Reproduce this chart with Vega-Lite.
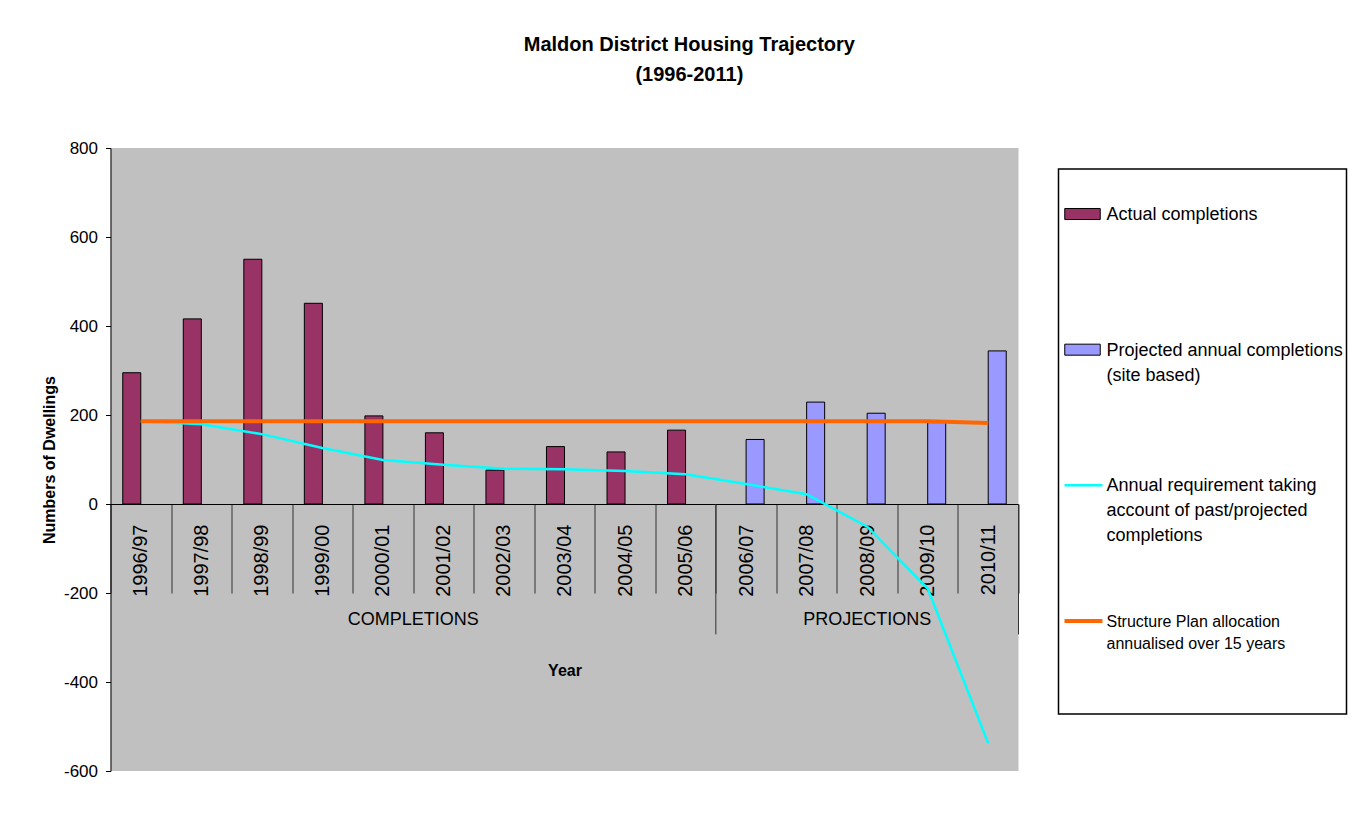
{
  "$schema": "https://vega.github.io/schema/vega-lite/v6.json",
  "background": "white",
  "padding": {"left": 40.5, "top": 35, "right": 5, "bottom": 5},
  "config": {
    "font": "Liberation Sans",
    "text": {"font": "Liberation Sans", "color": "black"},
    "axis": {"labelFont": "Liberation Sans", "titleFont": "Liberation Sans", "labelColor": "black", "titleColor": "black", "domainColor": "black", "tickColor": "black"}
  },
  "title": {
    "text": ["Maldon District Housing Trajectory", "(1996-2011)"],
    "fontSize": 20,
    "fontWeight": "bold",
    "lineHeight": 30,
    "anchor": "middle",
    "offset": 54,
    "dx": -5,
    "color": "black",
    "font": "Liberation Sans"
  },
  "datasets": {
    "bars": [
      {"year": "1996/97", "series": "Actual completions", "value": 295},
      {"year": "1997/98", "series": "Actual completions", "value": 416},
      {"year": "1998/99", "series": "Actual completions", "value": 550},
      {"year": "1999/00", "series": "Actual completions", "value": 451},
      {"year": "2000/01", "series": "Actual completions", "value": 198},
      {"year": "2001/02", "series": "Actual completions", "value": 160},
      {"year": "2002/03", "series": "Actual completions", "value": 76},
      {"year": "2003/04", "series": "Actual completions", "value": 129},
      {"year": "2004/05", "series": "Actual completions", "value": 117},
      {"year": "2005/06", "series": "Actual completions", "value": 166},
      {"year": "2006/07", "series": "Projected annual completions (site based)", "value": 145},
      {"year": "2007/08", "series": "Projected annual completions (site based)", "value": 229},
      {"year": "2008/09", "series": "Projected annual completions (site based)", "value": 204},
      {"year": "2009/10", "series": "Projected annual completions (site based)", "value": 183},
      {"year": "2010/11", "series": "Projected annual completions (site based)", "value": 344}
    ],
    "lines": [
      {"year": "1996/97", "series": "Annual requirement", "value": 186},
      {"year": "1997/98", "series": "Annual requirement", "value": 179},
      {"year": "1998/99", "series": "Annual requirement", "value": 157},
      {"year": "1999/00", "series": "Annual requirement", "value": 126},
      {"year": "2000/01", "series": "Annual requirement", "value": 99},
      {"year": "2001/02", "series": "Annual requirement", "value": 88},
      {"year": "2002/03", "series": "Annual requirement", "value": 79},
      {"year": "2003/04", "series": "Annual requirement", "value": 78},
      {"year": "2004/05", "series": "Annual requirement", "value": 74},
      {"year": "2005/06", "series": "Annual requirement", "value": 67},
      {"year": "2006/07", "series": "Annual requirement", "value": 45},
      {"year": "2007/08", "series": "Annual requirement", "value": 22},
      {"year": "2008/09", "series": "Annual requirement", "value": -51},
      {"year": "2009/10", "series": "Annual requirement", "value": -190},
      {"year": "2010/11", "series": "Annual requirement", "value": -538},
      {"year": "1996/97", "series": "Structure Plan allocation", "value": 186},
      {"year": "1997/98", "series": "Structure Plan allocation", "value": 186},
      {"year": "1998/99", "series": "Structure Plan allocation", "value": 186},
      {"year": "1999/00", "series": "Structure Plan allocation", "value": 186},
      {"year": "2000/01", "series": "Structure Plan allocation", "value": 186},
      {"year": "2001/02", "series": "Structure Plan allocation", "value": 186},
      {"year": "2002/03", "series": "Structure Plan allocation", "value": 186},
      {"year": "2003/04", "series": "Structure Plan allocation", "value": 186},
      {"year": "2004/05", "series": "Structure Plan allocation", "value": 186},
      {"year": "2005/06", "series": "Structure Plan allocation", "value": 186},
      {"year": "2006/07", "series": "Structure Plan allocation", "value": 186},
      {"year": "2007/08", "series": "Structure Plan allocation", "value": 186},
      {"year": "2008/09", "series": "Structure Plan allocation", "value": 186},
      {"year": "2009/10", "series": "Structure Plan allocation", "value": 186},
      {"year": "2010/11", "series": "Structure Plan allocation", "value": 182}
    ],
    "groups": [
      {"group": "COMPLETIONS", "year": "2000/01"},
      {"group": "PROJECTIONS", "year": "2008/09"}
    ],
    "separators": [
      {"year": "2005/06"},
      {"year": "2010/11"}
    ],
    "legend": [
      {"series": "Actual completions", "kind": "bar", "label": ["Actual completions"]},
      {"series": "Projected annual completions (site based)", "kind": "bar", "label": ["Projected annual completions", "(site based)"]},
      {"series": "Annual requirement", "kind": "line", "label": ["Annual requirement taking", "account of past/projected", "completions"]},
      {"series": "Structure Plan allocation", "kind": "line", "label": ["Structure Plan allocation", "annualised over 15 years"]}
    ]
  },
  "spacing": 38,
  "hconcat": [
    {
      "width": 908,
      "height": 623,
      "view": {"fill": "#C0C0C0", "stroke": null},
      "encoding": {
        "x": {
          "field": "year",
          "type": "nominal",
          "sort": null,
          "scale": {
            "domain": ["1996/97", "1997/98", "1998/99", "1999/00", "2000/01", "2001/02", "2002/03", "2003/04", "2004/05", "2005/06", "2006/07", "2007/08", "2008/09", "2009/10", "2010/11"],
            "paddingInner": 0,
            "paddingOuter": 0
          },
          "axis": {
            "title": "Year",
            "orient": "bottom",
            "offset": -267,
            "labelAngle": 270,
            "labelFontSize": 20,
            "labelPadding": -69,
            "tickSize": 89,
            "tickBand": "extent",
            "tickColor": "#333333",
            "domainColor": "black",
            "titleFontSize": 16,
            "titleFontWeight": "bold",
            "titlePadding": 66
          }
        }
      },
      "layer": [
        {
          "data": {"name": "bars"},
          "mark": {"type": "bar", "stroke": "black", "strokeWidth": 1},
          "encoding": {
            "xOffset": {
              "field": "series",
              "type": "nominal",
              "scale": {"domain": ["Actual completions", "Projected annual completions (site based)"], "paddingInner": 0, "paddingOuter": 0.68}
            },
            "y": {
              "field": "value",
              "type": "quantitative",
              "scale": {"domain": [-600, 800], "nice": false, "zero": false},
              "axis": {
                "title": "Numbers of Dwellings",
                "values": [-600, -400, -200, 0, 200, 400, 600, 800],
                "labelExpr": "'' + datum.value",
                "grid": false,
                "tickSize": 5,
                "labelFontSize": 17,
                "labelPadding": 8,
                "titleFontSize": 16,
                "titleFontWeight": "bold",
                "titlePadding": 6
              }
            },
            "fill": {
              "field": "series",
              "type": "nominal",
              "scale": {"domain": ["Actual completions", "Projected annual completions (site based)"], "range": ["#993366", "#9999FF"]},
              "legend": null
            }
          }
        },
        {
          "data": {"name": "separators"},
          "mark": {"type": "rule", "color": "#333333", "strokeWidth": 1},
          "encoding": {
            "x": {"field": "year", "type": "nominal", "bandPosition": 1},
            "y": {"datum": 0},
            "y2": {"datum": -293}
          }
        },
        {
          "data": {"name": "lines"},
          "transform": [{"filter": "datum.series == 'Annual requirement'"}],
          "mark": {"type": "line", "color": "#00FFFF", "strokeWidth": 2.5},
          "encoding": {
            "y": {"field": "value", "type": "quantitative"}
          }
        },
        {
          "data": {"name": "lines"},
          "transform": [{"filter": "datum.series == 'Structure Plan allocation'"}],
          "mark": {"type": "line", "color": "#FF6600", "strokeWidth": 4},
          "encoding": {
            "y": {"field": "value", "type": "quantitative"}
          }
        },
        {
          "data": {"name": "groups"},
          "transform": [{"filter": "datum.group == 'COMPLETIONS'"}],
          "mark": {"type": "text", "fontSize": 18, "baseline": "middle", "align": "center"},
          "encoding": {
            "x": {"field": "year", "type": "nominal", "bandPosition": 1},
            "y": {"datum": -261},
            "text": {"field": "group"}
          }
        },
        {
          "data": {"name": "groups"},
          "transform": [{"filter": "datum.group == 'PROJECTIONS'"}],
          "mark": {"type": "text", "fontSize": 18, "baseline": "middle", "align": "center"},
          "encoding": {
            "x": {"field": "year", "type": "nominal", "bandPosition": 0.5},
            "y": {"datum": -261},
            "text": {"field": "group"}
          }
        }
      ]
    },
    {
      "spacing": 19,
      "vconcat": [
        {
          "width": 288,
          "height": 1,
          "view": {"stroke": null, "fill": null},
          "data": {"values": []},
          "mark": {"type": "rule", "opacity": 0},
          "encoding": {}
        },
        {
          "width": 288,
          "height": 545,
          "view": {"fill": "white", "stroke": "black", "strokeWidth": 1.5},
          "data": {"name": "legend"},
          "encoding": {
            "y": {
              "field": "series",
              "type": "nominal",
              "sort": null,
              "scale": {"type": "point", "padding": 0, "domain": ["Actual completions", "Projected annual completions (site based)", "Annual requirement", "Structure Plan allocation"], "range": [45, 452]},
              "axis": null
            }
          },
          "layer": [
            {
              "transform": [{"filter": "datum.kind == 'bar'"}],
              "mark": {"type": "point", "shape": "M-1,-0.31H1V0.31H-1Z", "filled": true, "stroke": "black", "strokeWidth": 1, "size": 1260, "opacity": 1, "x": 24},
              "encoding": {
                "fill": {
                  "field": "series",
                  "type": "nominal",
                  "scale": {"domain": ["Actual completions", "Projected annual completions (site based)"], "range": ["#993366", "#9999FF"]},
                  "legend": null
                }
              }
            },
            {
              "transform": [{"filter": "datum.kind == 'line'"}],
              "mark": {"type": "rule", "x": 6, "x2": 44},
              "encoding": {
                "stroke": {
                  "field": "series",
                  "type": "nominal",
                  "scale": {"domain": ["Annual requirement", "Structure Plan allocation"], "range": ["#00FFFF", "#FF6600"]},
                  "legend": null
                },
                "strokeWidth": {
                  "field": "series",
                  "type": "nominal",
                  "scale": {"domain": ["Annual requirement", "Structure Plan allocation"], "range": [2.5, 4]},
                  "legend": null
                }
              }
            },
            {
              "transform": [{"filter": "datum.series != 'Structure Plan allocation'"}],
              "mark": {"type": "text", "x": 48, "align": "left", "baseline": "alphabetic", "dy": 6, "fontSize": 18, "lineHeight": 25},
              "encoding": {"text": {"field": "label"}}
            },
            {
              "transform": [{"filter": "datum.series == 'Structure Plan allocation'"}],
              "mark": {"type": "text", "x": 48, "align": "left", "baseline": "alphabetic", "dy": 6, "fontSize": 16, "lineHeight": 22},
              "encoding": {"text": {"field": "label"}}
            }
          ]
        }
      ]
    }
  ]
}
